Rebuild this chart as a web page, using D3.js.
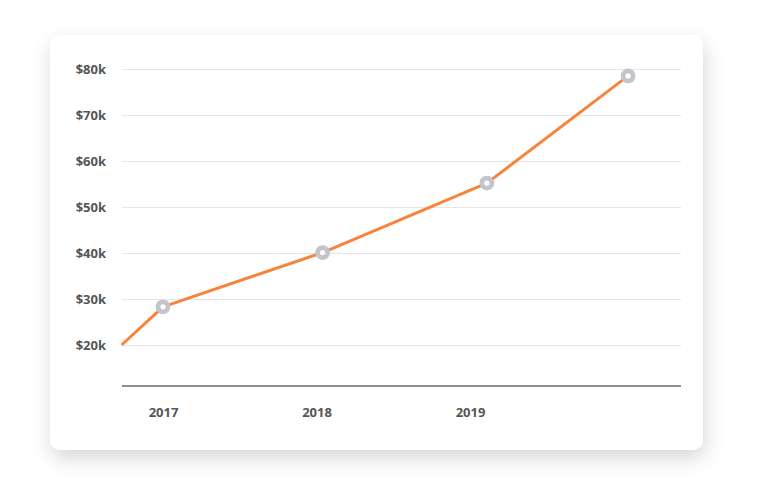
<!DOCTYPE html>
<html><head><meta charset="utf-8">
<script src="https://cdn.jsdelivr.net/npm/d3@7"></script>
<style>
html,body{margin:0;padding:0;background:#fff;}
svg{display:block;font-family:"Open Sans",sans-serif;}
</style></head>
<body>
<svg id="chart" width="768" height="488"></svg>
<script>
// data
const xPositions = [2016.73, 2017, 2018.04, 2019.11, 2020.03];
const values = [20, 28.3, 40.1, 55.2, 78.5];
const markerShown = [false, true, true, true, true];
const xTickLabels = [2017, 2018, 2019];
const yTickValues = [20, 30, 40, 50, 60, 70, 80];

const svg = d3.select("#chart");
const defs = svg.append("defs");
const f = defs.append("filter").attr("id","shadow").attr("x","-10%").attr("y","-10%").attr("width","120%").attr("height","130%");
f.append("feDropShadow").attr("dx",2).attr("dy",8).attr("stdDeviation",10).attr("flood-color","#000").attr("flood-opacity",0.16);

svg.append("rect").attr("x",50).attr("y",35).attr("width",653).attr("height",415)
  .attr("rx",10).attr("fill","#fff").attr("filter","url(#shadow)");

const x = d3.scaleLinear().domain([2017, 2019]).range([163, 470]);
const y = d3.scaleLinear().domain([20, 80]).range([345, 69]);
const left = 122, right = 681, baseY = 386;

// grid
const yAxis = d3.axisLeft(y).tickValues(yTickValues).tickSize(0).tickPadding(0)
  .tickFormat(d => "$" + d + "k");
const gy = svg.append("g").attr("transform", `translate(${left},0)`).call(yAxis);
gy.select(".domain").remove();
gy.selectAll(".tick line").attr("x2", right - left).attr("stroke", "#e6e6e6").attr("stroke-width", 1.2);
gy.selectAll(".tick text").attr("x", -16).attr("dy","0.35em").attr("fill","#555")
  .style("font-size","13px").style("font-weight","700").style("font-family","'Open Sans',sans-serif");

// x axis
const xAxis = d3.axisBottom(x).tickValues(xTickLabels).tickSize(0).tickPadding(0).tickFormat(d3.format("d"));
const gx = svg.append("g").attr("transform", `translate(0,${baseY})`).call(xAxis);
gx.select(".domain").remove();
gx.selectAll(".tick text").attr("y", 26).attr("dy","0.35em").attr("fill","#555")
  .style("font-size","13px").style("font-weight","700").style("font-family","'Open Sans',sans-serif");
svg.append("line").attr("x1",left).attr("x2",right).attr("y1",baseY).attr("y2",baseY)
  .attr("stroke","#6b6b6b").attr("stroke-width",1.5);

const data = xPositions.map((p,i)=>({x:p, v:values[i], m:markerShown[i]}));
const line = d3.line().x(d=>x(d.x)).y(d=>y(d.v));
svg.append("path").datum(data).attr("d", line).attr("fill","none")
  .attr("stroke","#f7843a").attr("stroke-width",3).attr("stroke-linejoin","round");

svg.selectAll("circle.pt").data(data.filter(d=>d.m)).join("circle").attr("class","pt")
  .attr("cx",d=>x(d.x)).attr("cy",d=>y(d.v)).attr("r",5)
  .attr("fill","#fff").attr("stroke","#c2c5ca").attr("stroke-width",4.8);
</script>
</body></html>
